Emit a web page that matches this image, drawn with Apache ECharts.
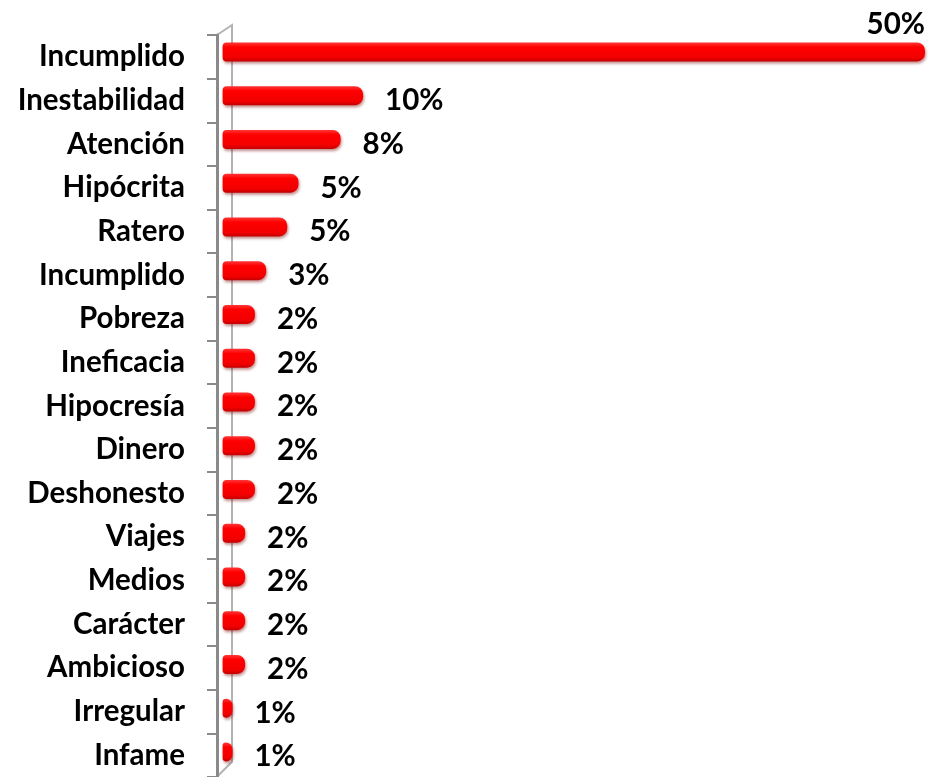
<!DOCTYPE html>
<html>
<head>
<meta charset="utf-8">
<script src="https://cdn.jsdelivr.net/npm/echarts@6/dist/echarts.min.js"></script>
<style>
html,body{margin:0;padding:0;background:#fff;}
#c{width:939px;height:777px;}
</style>
</head>
<body>
<div id="c"></div>
<script>
// ---- data (top-level named arrays) ----
var categories = ["Incumplido","Inestabilidad","Atención","Hipócrita","Ratero","Incumplido","Pobreza","Ineficacia","Hipocresía","Dinero","Deshonesto","Viajes","Medios","Carácter","Ambicioso","Irregular","Infame"];
var values = [50, 10, 8.4, 5.4, 4.6, 3.1, 2.3, 2.3, 2.3, 2.3, 2.3, 1.6, 1.6, 1.6, 1.6, 0.7, 0.7];

// ---- layout ----
var FONT = 'Lato';
var FSIZE = 29.5;
var GL = 217, GT = 35, BAND = 43.75;
var GH = BAND * categories.length;
var BAR_SHIFT = 5;

var chart = echarts.init(document.getElementById('c'), null, {renderer: 'canvas'});

var barData = values.map(function (v, i) {
  var item = {value: v};
  if (i === 0) {
    item.label = {position: 'insideTopRight', distance: 0, offset: [0, -33]};
  }
  return item;
});

var option = {
  backgroundColor: '#ffffff',
  animation: false,
  grid: [
    {left: GL, top: GT, width: 939 - GL - 14, height: GH, containLabel: false},
    {left: GL, top: GT - BAR_SHIFT, width: 939 - GL - 14, height: GH, containLabel: false}
  ],
  xAxis: [
    {type: 'value', gridIndex: 0, min: -0.4, max: 50, show: false},
    {type: 'value', gridIndex: 1, min: -0.4, max: 50, show: false}
  ],
  yAxis: [
    {
      type: 'category', gridIndex: 0, inverse: true, data: categories,
      axisLine: {show: true, onZero: false, lineStyle: {color: '#8a8a8a', width: 3}},
      axisTick: {show: true, length: 10, lineStyle: {color: '#8a8a8a', width: 2}},
      axisLabel: {
        margin: 32, color: '#000', fontFamily: FONT, fontWeight: 'bold', fontSize: FSIZE
      },
      splitLine: {show: false},
      z: 5
    },
    {
      type: 'category', gridIndex: 1, inverse: true, data: categories, show: false
    }
  ],
  graphic: [{
    type: 'polyline',
    silent: true,
    z: 0,
    shape: {points: [[GL, GT], [GL + 15, GT - 10], [GL + 15, GT + GH - 17], [GL, GT + GH - 2]]},
    style: {stroke: '#b3b3b3', lineWidth: 2, fill: null}
  }],
  series: [
    {
      type: 'bar', xAxisIndex: 0, yAxisIndex: 0, data: values.map(function () { return null; }),
      silent: true
    },
    {
      type: 'bar', xAxisIndex: 1, yAxisIndex: 1,
      data: barData,
      barWidth: 19,
      z: 3,
      itemStyle: {
        color: {
          type: 'linear', x: 0, y: 0, x2: 0, y2: 1,
          colorStops: [
            {offset: 0, color: '#ff3838'},
            {offset: 0.25, color: '#ff0000'},
            {offset: 0.8, color: '#f20000'},
            {offset: 1, color: '#c40000'}
          ]
        },
        borderRadius: [4, 8, 8, 4],
        shadowColor: 'rgba(120,0,0,0.45)',
        shadowBlur: 3,
        shadowOffsetX: 1,
        shadowOffsetY: 2
      },
      label: {
        show: true,
        position: 'right',
        distance: 22,
        offset: [0, 5],
        color: '#000',
        fontFamily: FONT,
        fontWeight: 'bold',
        fontSize: FSIZE,
        formatter: function (p) { return Math.round(p.value) + '%'; }
      }
    }
  ]
};
chart.setOption(option);
</script>
</body>
</html>
